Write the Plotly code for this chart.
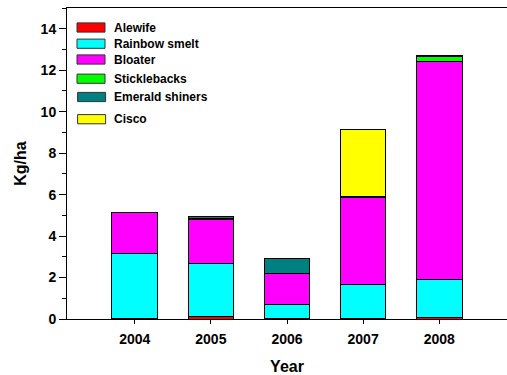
import plotly.graph_objects as go

# Fish biomass by year (kg/ha), stacked by species
years = [2004, 2005, 2006, 2007, 2008]
species = ["Alewife", "Rainbow smelt", "Bloater", "Sticklebacks", "Emerald shiners", "Cisco"]
alewife = [0.02, 0.10, 0.03, 0.02, 0.05]
rainbow_smelt = [3.15, 2.58, 0.65, 1.66, 1.85]
bloater = [1.95, 2.14, 1.53, 4.18, 10.50]
sticklebacks = [0.02, 0.05, None, 0.05, 0.25]
emerald_shiners = [None, 0.08, 0.69, 0.02, 0.05]
cisco = [None, None, None, 3.23, None]
series = [alewife, rainbow_smelt, bloater, sticklebacks, emerald_shiners, cisco]
colors = ["#FF0000", "#00FFFF", "#FF00FF", "#00FF00", "#008080", "#FFFF00"]
y_ticks = [0, 2, 4, 6, 8, 10, 12, 14]

FONT = "Liberation Sans, Arial, sans-serif"
W, H = 507, 375
L, R, T, B = 67, 0, 8, 56

fig = go.Figure()
for name, vals, col in zip(species, series, colors):
    fig.add_trace(go.Bar(
        x=years, y=vals, name=name, width=0.6,
        marker=dict(color=col, line=dict(color="black", width=1)),
        showlegend=False,
    ))

# Hand-drawn legend box in the upper-left corner (pixel layout -> paper coords)
pw, ph = W - L - R, H - T - B
def px(x):
    return (x - L) / pw
def py(y):
    return (H - B - y) / ph

row_y = [27.5, 43.7, 59.5, 78.7, 97.0, 119.2]
row_dx = [0, 0, 0, 0, 0.6, 0.6]
shapes = []
annotations = []
for name, col, yc, dx in zip(species, colors, row_y, row_dx):
    shapes.append(dict(
        type="rect", xref="paper", yref="paper",
        x0=px(77 + dx), x1=px(105 + dx), y0=py(yc + 4.6), y1=py(yc - 4.6),
        fillcolor=col, line=dict(color="#333333", width=1),
    ))
    annotations.append(dict(
        xref="paper", yref="paper", x=px(111.5 + dx), y=py(yc),
        text=f"<b>{name}</b>", showarrow=False, xanchor="left", yanchor="middle",
        font=dict(family=FONT, size=12, color="black"),
    ))

fig.update_layout(
    barmode="stack",
    width=W, height=H,
    margin=dict(l=L, r=R, t=T, b=B),
    paper_bgcolor="white", plot_bgcolor="white",
    font=dict(family=FONT, color="black"),
    shapes=shapes, annotations=annotations,
    xaxis=dict(
        range=[2003.11, 2008.89],
        tickmode="array", tickvals=years, ticktext=[f"<b>{y}</b>" for y in years],
        ticks="outside", ticklen=4, tickcolor="black", tickwidth=1,
        ticklabelstandoff=3,
        showline=True, linecolor="black", linewidth=1, mirror=True,
        showgrid=False, zeroline=False,
        tickfont=dict(family=FONT, size=14, color="black"),
        title=dict(text="<b>Year</b>", font=dict(family=FONT, size=16, color="black"), standoff=17),
    ),
    yaxis=dict(
        range=[0, 15],
        tickmode="array", tickvals=y_ticks, ticktext=[f"<b>{v}</b>" for v in y_ticks],
        ticks="outside", ticklen=7, tickcolor="black", tickwidth=1,
        minor=dict(tickvals=[1, 3, 5, 7, 9, 11, 13, 15], ticks="outside", ticklen=4,
                   tickcolor="black", tickwidth=1, showgrid=False),
        showline=True, linecolor="black", linewidth=1,
        showgrid=False, zeroline=False,
        tickfont=dict(family=FONT, size=14, color="black"),
        title=dict(text="<b>Kg/ha</b>", font=dict(family=FONT, size=16, color="black"), standoff=10),
    ),
)

fig.write_html("out.html")
